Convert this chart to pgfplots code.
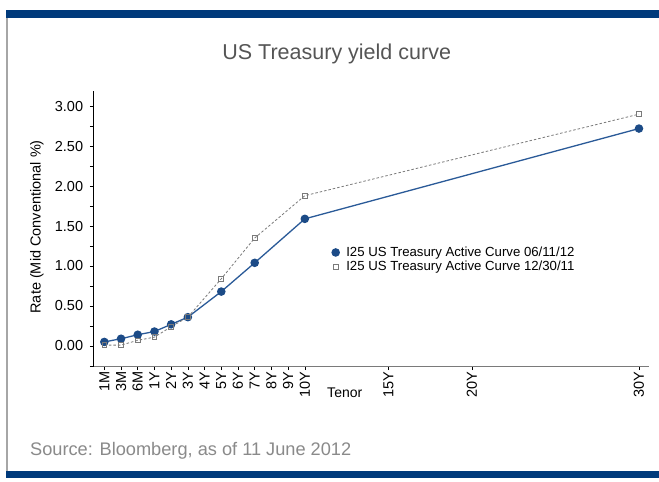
\documentclass[border=0pt]{standalone}
\usepackage{fontspec}
\setmainfont{Liberation Sans}
\usepackage{pgfplots}
\pgfplotsset{compat=1.18}
\definecolor{barblue}{HTML}{003A7B}
\definecolor{navy}{HTML}{1C4B87}
\definecolor{navyline}{HTML}{2A5A98}
\definecolor{ser2}{HTML}{7A7A7A}
\definecolor{titlegray}{HTML}{555555}
\definecolor{srcgray}{HTML}{8A8A8A}
\begin{document}
\begin{tikzpicture}
\path[use as bounding box, fill=white] (0,0) rectangle (659bp,482bp);
\fill[barblue] (6bp,464.3bp) rectangle (659bp,472bp);
\fill[barblue] (6bp,3.5bp) rectangle (659bp,11bp);
\draw[gray!70, line width=1.2bp] (7bp,11bp) -- (7bp,464.3bp);
\node[text=titlegray, font=\fontsize{21.5bp}{24bp}\selectfont, anchor=base] at (336.7bp,422bp) {US Treasury yield curve};
\node[text=srcgray, font=\fontsize{18.2bp}{21bp}\selectfont, anchor=base west, inner sep=0pt] at (30bp,27bp) {Source: Bloomberg, as of 11 June 2012};
\begin{axis}[
  at={(93.3bp,115.3bp)}, anchor=south west,
  scale only axis, width=555.7bp, height=275.7bp,
  xmin=-2.66, xmax=30.6, ymin=-0.26, ymax=3.19,
  axis x line*=bottom, axis y line*=left,
  x axis line style={draw=ser2, line width=1.3bp, -},
  y axis line style={draw=black, line width=0.9bp, -},
  clip=false,
  tick align=outside,
  major tick length=3.5bp, minor tick length=3.5bp,
  every tick/.style={black, line width=0.6bp},
  xtick={-2,-1,0,1,2,3,4,5,6,7,8,9,10,15,20,30},
  xticklabels={1M,3M,6M,1Y,2Y,3Y,4Y,5Y,6Y,7Y,8Y,9Y,10Y,15Y,20Y,30Y},
  xticklabel style={rotate=90, anchor=east, inner sep=1bp, font=\fontsize{14.5bp}{16bp}\selectfont},
  ytick={0,0.5,1,1.5,2,2.5,3},
  minor ytick={-0.25,0.25,0.75,1.25,1.75,2.25,2.75},
  yticklabel style={font=\fontsize{14.5bp}{16bp}\selectfont, inner sep=1bp, xshift=-5.5bp},
  /pgf/number format/assume math mode=true,
  yticklabel={\pgfmathprintnumber[fixed,precision=2,zerofill]{\tick}},
  legend cell align=left,
  legend style={draw=none, fill=none, inner sep=0pt, at={(axis cs:11.62,1.08)}, anchor=west,
    font=\fontsize{13.2bp}{15bp}\selectfont,
    nodes={inner sep=0.5bp, text height=10.3bp, text depth=3bp},
    column sep=6.5bp},
  legend image code/.code={\draw[#1] plot coordinates {(0bp,0bp)};},
]
\addplot[color=navyline, line width=1.3bp, mark=*, mark size=3.6bp, mark options={draw=navy, fill=navy}]
  coordinates {(-2,0.05) (-1,0.09) (0,0.14) (1,0.18) (2,0.27) (3,0.36) (5,0.68) (7,1.04) (10,1.59) (30,2.72)};
\addlegendentry{I25 US Treasury Active Curve 06/11/12}
\addplot[color=ser2, line width=0.8bp, dash pattern=on 2.5bp off 2bp, mark=square, mark size=2.4bp, mark options={solid, draw=ser2, fill=white, line width=0.8bp}]
  coordinates {(-2,0.01) (-1,0.01) (0,0.07) (1,0.11) (2,0.24) (3,0.36) (5,0.84) (7,1.35) (10,1.88) (30,2.90)};
\addlegendentry{I25 US Treasury Active Curve 12/30/11}
\node[font=\fontsize{14bp}{16bp}\selectfont, anchor=center] at (axis cs:12.39,-0.585) {Tenor};
\node[font=\fontsize{14.5bp}{16bp}\selectfont, rotate=90, anchor=center] at (axis cs:-6.03,1.49) {Rate (Mid Conventional \%)};
\end{axis}
\end{tikzpicture}
\end{document}
